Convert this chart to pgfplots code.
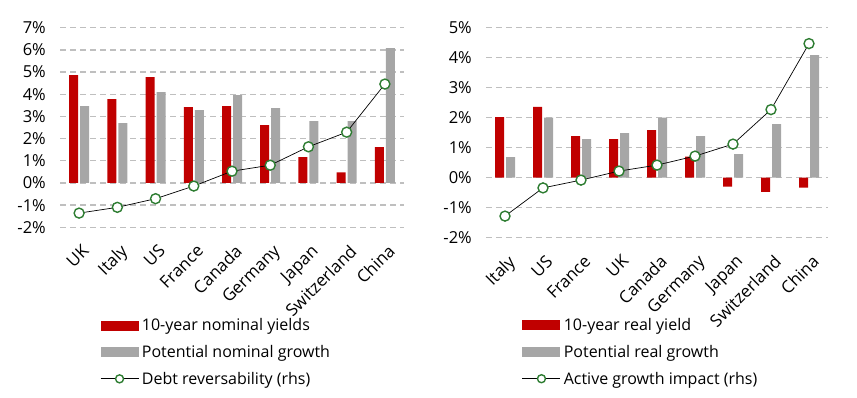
\documentclass[border=0pt]{standalone}
\usepackage{fontspec}
\setmainfont{Open Sans}
\usepackage{pgfplots}
\pgfplotsset{compat=1.18}
\definecolor{cred}{RGB}{192,0,0}
\definecolor{cgray}{RGB}{166,166,166}
\definecolor{cgreen}{RGB}{46,125,50}
\definecolor{cgrid}{RGB}{191,191,191}
\pgfplotsset{
  common/.style={
    scale only axis,
    anchor=south west,
    clip=false,
    xmin=-0.5, xmax=8.5,
    xtick={0,...,8},
    axis line style={draw=none},
    major tick length=0pt,
    ymajorgrids,
    major grid style={cgrid, line width=1.3bp, dash pattern=on 6bp off 4bp},
    extra y ticks={0},
    extra y tick labels={},
    extra y tick style={grid style={black, solid, line width=1.6bp}},
    /pgf/number format/assume math mode=true,
    yticklabel={\pgfmathprintnumber[fixed,precision=0]{\tick}\%},
    yticklabel style={font=\fontsize{16.5bp}{19bp}\selectfont, inner sep=0pt, xshift=-14bp},
    xticklabel style={font=\fontsize{17bp}{20bp}\selectfont, inner sep=0pt, xshift=2bp, yshift=-16bp, rotate=45, anchor=north east},
    legend cell align=left,
    legend style={draw=none, fill=none, font=\fontsize{16bp}{19bp}\selectfont, inner sep=0pt, row sep=7bp,
      nodes={inner sep=3bp}},
  },
  redbar/.style={ybar, bar width=9bp, bar shift=-5.5bp, fill=cred, draw=none,
    legend image code/.code={\fill[cred] (0bp,-5bp) rectangle (38bp,5bp);}},
  graybar/.style={ybar, bar width=9bp, bar shift=5.5bp, fill=cgray, draw=none,
    legend image code/.code={\fill[cgray] (0bp,-5bp) rectangle (38bp,5bp);}},
  gline/.style={black, line width=0.7bp, mark=*, mark size=5bp,
    mark options={solid, fill=white, draw=cgreen, line width=1.4bp},
    legend image code/.code={\draw[black, line width=0.7bp] (0bp,0bp) -- (38bp,0bp);
      \draw[cgreen, fill=white, line width=1.4bp] (19bp,0bp) circle (4bp);}},
}
\begin{document}
\begin{tikzpicture}
\useasboundingbox (0,0) rectangle (857bp,398bp);
\begin{axis}[common,
  at={(60bp,170.7bp)}, width=344bp, height=199.6bp,
  ymin=-2, ymax=7, ytick={-2,...,7},
  xticklabels={UK,Italy,US,France,Canada,Germany,Japan,Switzerland,China},
  legend style={at={(0.1163,-0.442)}, anchor=north west},
]
\addplot[redbar] coordinates {(0,4.86) (1,3.78) (2,4.77) (3,3.42) (4,3.46) (5,2.61) (6,1.16) (7,0.48) (8,1.61)};
\addlegendentry{10-year nominal yields}
\addplot[graybar] coordinates {(0,3.46) (1,2.70) (2,4.10) (3,3.28) (4,3.96) (5,3.37) (6,2.79) (7,2.79) (8,6.08)};
\addlegendentry{Potential nominal growth}
\addplot[gline] coordinates {(0,-1.36) (1,-1.10) (2,-0.71) (3,-0.14) (4,0.53) (5,0.80) (6,1.63) (7,2.29) (8,4.46)};
\addlegendentry{Debt reversability (rhs)}
\end{axis}
\begin{axis}[common,
  at={(486bp,160.3bp)}, width=342bp, height=210bp,
  ymin=-2, ymax=5, ytick={-2,...,5},
  xticklabels={Italy,US,France,UK,Canada,Germany,Japan,Switzerland,China},
  legend style={at={(0.105,-0.370)}, anchor=north west},
]
\addplot[redbar] coordinates {(0,2.02) (1,2.36) (2,1.39) (3,1.29) (4,1.59) (5,0.70) (6,-0.30) (7,-0.47) (8,-0.33)};
\addlegendentry{10-year real yield}
\addplot[graybar] coordinates {(0,0.69) (1,2.00) (2,1.29) (3,1.49) (4,2.00) (5,1.39) (6,0.79) (7,1.79) (8,4.09)};
\addlegendentry{Potential real growth}
\addplot[gline] coordinates {(0,-1.28) (1,-0.34) (2,-0.08) (3,0.22) (4,0.42) (5,0.72) (6,1.12) (7,2.27) (8,4.47)};
\addlegendentry{Active growth impact (rhs)}
\end{axis}
\end{tikzpicture}
\end{document}
